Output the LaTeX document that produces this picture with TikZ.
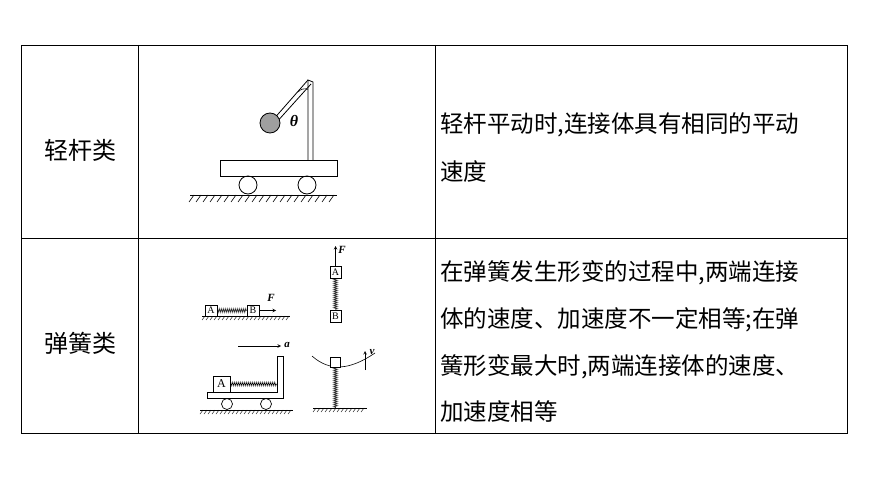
\documentclass[tikz,border=0pt]{standalone}
\usepackage{fontspec}
\setmainfont{Liberation Serif}
\newfontfamily\cjk{Noto Sans CJK SC}
\usetikzlibrary{decorations.pathmorphing,patterns}
\begin{document}
\begin{tikzpicture}[x=1pt,y=-1pt,
  cell/.style={font=\cjk\fontsize{23.5}{23.5}\selectfont,anchor=west,inner sep=0},
  head/.style={font=\cjk\fontsize{24}{24}\selectfont,inner sep=0},
  blk/.style={draw,fill=white,line width=0.6pt},
  spr/.style={decorate,decoration={zigzag,segment length=2pt,amplitude=2pt},line width=0.5pt},
  gnd/.style={line width=0.8pt},
  lab/.style={font=\itshape\bfseries\fontsize{11}{11}\selectfont,inner sep=0},
  ar/.style={-stealth,line width=0.6pt}]
\useasboundingbox (0,0) rectangle (870,489);
% table
\draw[line width=0.7pt] (21,45) rectangle (847,433);
\draw[line width=0.7pt] (21,238) -- (847,238) (138,45) -- (138,433) (435,45) -- (435,433);
\node[head] (h1) at (80,150) {轻杆类};
\node[head] (h2) at (80,343) {弹簧类};
\node[cell] (t1) at (440,125) {轻杆平动时,连接体具有相同的平动};
\node[cell] (t2) at (440,172) {速度};
\node[cell] (t3) at (440,273) {在弹簧发生形变的过程中,两端连接};
\node[cell] (t4) at (440,320) {体的速度、加速度不一定相等;在弹};
\node[cell] (t5) at (440,367) {簧形变最大时,两端连接体的速度、};
\node[cell] (t6) at (440,412) {加速度相等};
% cart with rod
\draw[gnd] (190,195) -- (337,195);
\foreach \x in {194,201,...,336} \draw[line width=0.6pt] (\x,195) -- (\x-5,202);
\draw[line width=0.8pt] (220,160) rectangle (337,176);
\draw[line width=0.8pt] (248,185) circle (9) (307,185) circle (9);
\draw[line width=0.8pt] (308,160) -- (308,80) -- (313,82) -- (313,160);
\draw[line width=0.8pt] (308,80) -- (272,121) (311,84) -- (275,124);
\draw[line width=0.8pt,fill=gray!75] (270,123) circle (10);
\draw[line width=0.6pt] (298,92) arc[start angle=220,end angle=290,radius=9];
\node[lab,font=\itshape\bfseries\fontsize{16}{16}\selectfont] (th) at (294,121) {θ};
% spring 1 horizontal
\draw[gnd] (202,316) -- (290,316);
\foreach \x in {205,209,...,289} \draw[line width=0.4pt] (\x,316) -- (\x-3,320);
\node[blk,minimum width=12pt,minimum height=11pt,inner sep=0,font=\fontsize{10}{10}\selectfont] (A1) at (211,310.5) {A};
\node[blk,minimum width=12pt,minimum height=11pt,inner sep=0,font=\fontsize{10}{10}\selectfont] (B1) at (253,310.5) {B};
\draw[spr] (A1.east) -- (B1.west);
\coordinate (f1) at (276,310.5);
\draw[ar] (B1.east) -- (f1);
\node[lab] (F1) at (271,298) {F};
% spring 2 vertical
\node[blk,minimum width=11pt,minimum height=12pt,inner sep=0,font=\fontsize{10}{10}\selectfont] (A2) at (335.5,272) {A};
\node[blk,minimum width=11pt,minimum height=12pt,inner sep=0,font=\fontsize{10}{10}\selectfont] (B2) at (335.5,316) {B};
\draw[spr] (A2.south) -- (B2.north);
\coordinate (f2) at (335.5,246);
\draw[ar] (A2.north) -- (f2);
\node[lab] (F2) at (342,250) {F};
% cart spring
\coordinate (a1) at (238,346); \coordinate (a2) at (281,346);
\draw[ar] (a1) -- (a2);
\node[lab] (aa) at (287,345) {a};
\draw[line width=0.7pt] (207,392) -- (277,392) -- (277,356) -- (283,356) -- (283,398) -- (207,398) -- cycle;
\node[blk,minimum width=17pt,minimum height=16pt,inner sep=0,font=\fontsize{12}{12}\selectfont] (A3) at (221.5,384) {A};
\coordinate (w) at (277,384);
\draw[spr] (A3.east) -- (w);
\draw[line width=0.7pt] (227,404) circle (5.5) (266,404) circle (5.5);
\draw[gnd] (200,410) -- (293,410);
\foreach \x in {203,207,...,292} \draw[line width=0.4pt] (\x,410) -- (\x-3,414);
% vertical spring with bowl
\draw[gnd] (313,408) -- (367,408);
\foreach \x in {316,320,...,366} \draw[line width=0.4pt] (\x,408) -- (\x-3,412);
\draw[line width=0.6pt] (312,356) .. controls (330,372) and (350,370) .. (375,353);
\node[blk,minimum width=10pt,minimum height=10pt,inner sep=0] (C) at (335.5,362) {};
\coordinate (g) at (335.5,408);
\draw[spr] (C.south) -- (g);
\coordinate (v1) at (365,370); \coordinate (v2) at (365,351);
\draw[ar] (v1) -- (v2);
\node[lab] (vv) at (372,352) {v};
\end{tikzpicture}
\end{document}
